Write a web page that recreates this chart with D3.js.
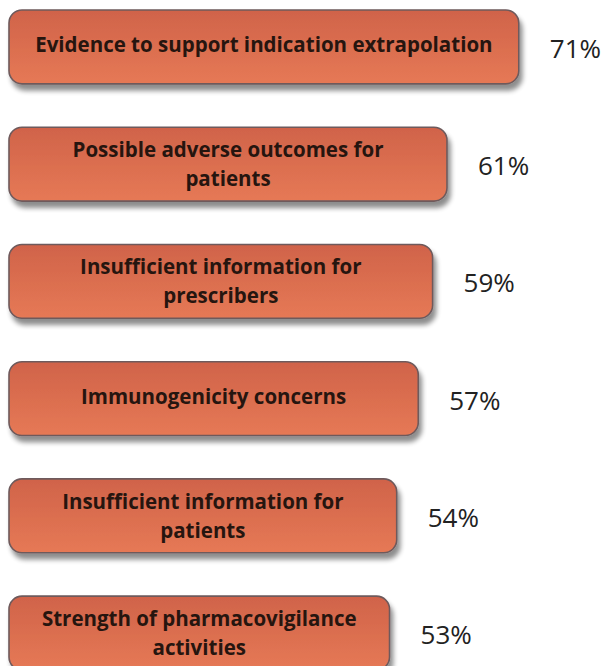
<!DOCTYPE html>
<html>
<head>
<meta charset="utf-8">
<script src="https://cdnjs.cloudflare.com/ajax/libs/d3/7.8.5/d3.min.js"></script>
<style>
  html, body { margin: 0; padding: 0; background: #ffffff; }
  svg { display: block; }
</style>
</head>
<body>
<div id="chart"></div>
<script>
// ---- data ----
const categories = [
  ["Evidence to support indication extrapolation"],
  ["Possible adverse outcomes for", "patients"],
  ["Insufficient information for", "prescribers"],
  ["Immunogenicity concerns"],
  ["Insufficient information for", "patients"],
  ["Strength of pharmacovigilance", "activities"]
];
const values = [71, 61, 59, 57, 54, 53];
const valueLabels = ["71%", "61%", "59%", "57%", "54%", "53%"];

// ---- layout ----
const W = 606, H = 666;
const left = 9;

const svg = d3.select("#chart").append("svg")
  .attr("width", W).attr("height", H);

const x = d3.scaleLinear().domain([0, 100]).range([0, 718]);
const y = d3.scaleBand()
  .domain(d3.range(values.length))
  .range([10, 592 + 73 + 5])
  .paddingInner(0.37)
  .paddingOuter(0);

const defs = svg.append("defs");
const grad = defs.append("linearGradient")
  .attr("id", "barGrad").attr("x1", 0).attr("y1", 0).attr("x2", 0).attr("y2", 1);
grad.append("stop").attr("offset", "0%").attr("stop-color", "#d0634a");
grad.append("stop").attr("offset", "100%").attr("stop-color", "#e67955");

const filt = defs.append("filter").attr("id", "shadow")
  .attr("x", "-10%").attr("y", "-20%").attr("width", "130%").attr("height", "160%");
filt.append("feGaussianBlur").attr("in", "SourceAlpha").attr("stdDeviation", 2.5).attr("result", "b");
filt.append("feOffset").attr("in", "b").attr("dx", 3).attr("dy", 6).attr("result", "o");
filt.append("feComponentTransfer").attr("in", "o").attr("result", "s")
  .append("feFuncA").attr("type", "linear").attr("slope", 0.45);
const merge = filt.append("feMerge");
merge.append("feMergeNode").attr("in", "s");
merge.append("feMergeNode").attr("in", "SourceGraphic");

const g = svg.append("g");

const rows = g.selectAll("g.row")
  .data(values.map((v, i) => ({ v, i, lines: categories[i], label: valueLabels[i] })))
  .join("g").attr("class", "row");

rows.append("rect")
  .attr("x", left)
  .attr("y", d => y(d.i))
  .attr("width", d => x(d.v))
  .attr("height", y.bandwidth())
  .attr("rx", 13).attr("ry", 13)
  .attr("fill", "url(#barGrad)")
  .attr("stroke", "#6e5a5c")
  .attr("stroke-width", 1.6)
  .attr("filter", "url(#shadow)");

rows.each(function(d) {
  const sel = d3.select(this);
  const cx = left + x(d.v) / 2;
  const cy = y(d.i) + y.bandwidth() / 2;
  const lh = 29;
  const n = d.lines.length;
  d.lines.forEach((line, k) => {
    sel.append("text")
      .attr("x", cx)
      .attr("y", cy + (k - (n - 1) / 2) * lh - (n === 1 ? 2 : 0))
      .attr("dy", "0.35em")
      .attr("text-anchor", "middle")
      .attr("font-family", "'Open Sans', sans-serif")
      .attr("font-weight", 700)
      .attr("font-size", 20.5)
      .attr("fill", "#26150f")
      .text(line);
  });
  sel.append("text")
    .attr("x", left + x(d.v) + 31)
    .attr("y", cy + 2)
    .attr("dy", "0.35em")
    .attr("font-family", "'Open Sans', sans-serif")
    .attr("font-size", 26)
    .attr("fill", "#222222")
    .text(d.label);
});
</script>
</body>
</html>
